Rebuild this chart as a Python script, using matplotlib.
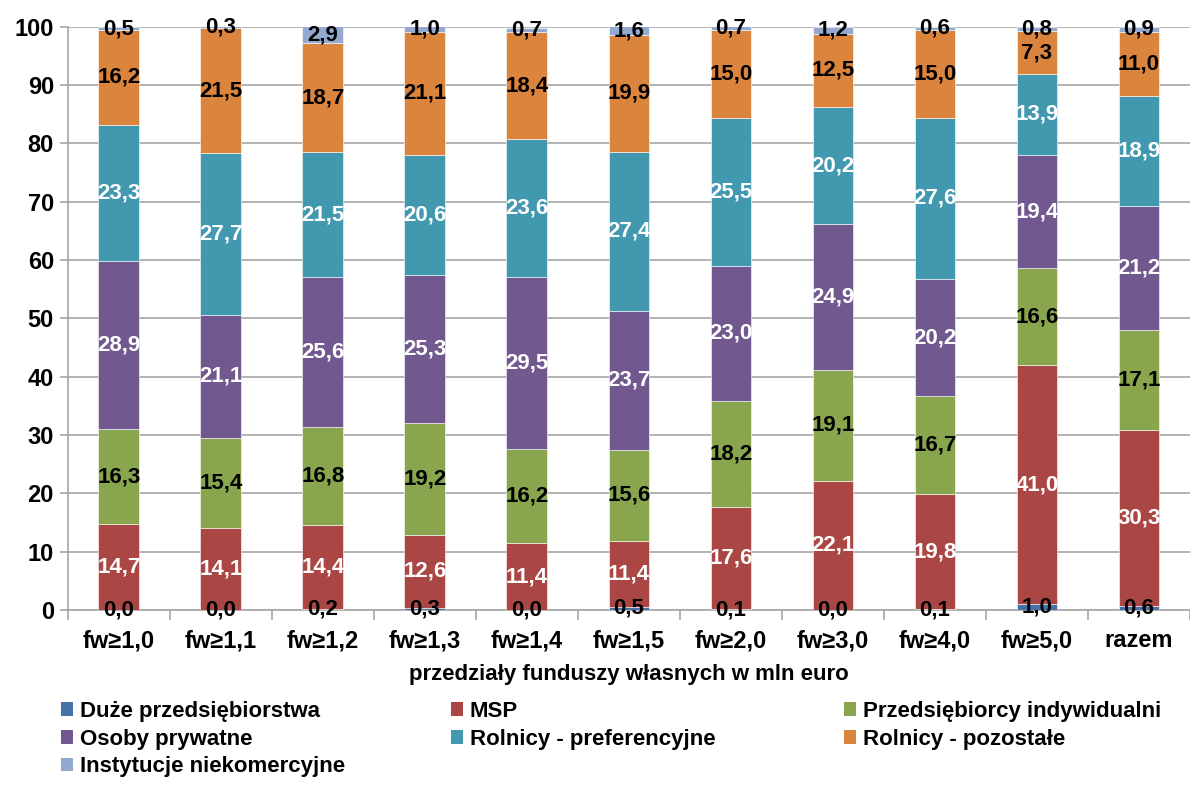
import matplotlib
matplotlib.use("Agg")
import matplotlib.pyplot as plt
from matplotlib.patches import Patch
import numpy as np

categories = ["fw≥1,0", "fw≥1,1", "fw≥1,2", "fw≥1,3", "fw≥1,4", "fw≥1,5",
              "fw≥2,0", "fw≥3,0", "fw≥4,0", "fw≥5,0", "razem"]

duze = [0.0, 0.0, 0.2, 0.3, 0.0, 0.5, 0.1, 0.0, 0.1, 1.0, 0.6]
msp = [14.7, 14.1, 14.4, 12.6, 11.4, 11.4, 17.6, 22.1, 19.8, 41.0, 30.3]
przedsiebiorcy = [16.3, 15.4, 16.8, 19.2, 16.2, 15.6, 18.2, 19.1, 16.7, 16.6, 17.1]
osoby = [28.9, 21.1, 25.6, 25.3, 29.5, 23.7, 23.0, 24.9, 20.2, 19.4, 21.2]
rolnicy_pref = [23.3, 27.7, 21.5, 20.6, 23.6, 27.4, 25.5, 20.2, 27.6, 13.9, 18.9]
rolnicy_poz = [16.2, 21.5, 18.7, 21.1, 18.4, 19.9, 15.0, 12.5, 15.0, 7.3, 11.0]
instytucje = [0.5, 0.3, 2.9, 1.0, 0.7, 1.6, 0.7, 1.2, 0.6, 0.8, 0.9]

series = [
    ("Duże przedsiębiorstwa", duze, "#4572A7", "black"),
    ("MSP", msp, "#AA4643", "white"),
    ("Przedsiębiorcy indywidualni", przedsiebiorcy, "#89A54E", "black"),
    ("Osoby prywatne", osoby, "#71588F", "white"),
    ("Rolnicy - preferencyjne", rolnicy_pref, "#4198AF", "white"),
    ("Rolnicy - pozostałe", rolnicy_poz, "#DB843D", "black"),
    ("Instytucje niekomercyjne", instytucje, "#93A9CF", "black"),
]

plt.rcParams["font.family"] = ["Liberation Sans", "DejaVu Sans"]
plt.rcParams["font.weight"] = "bold"

fig = plt.figure(figsize=(11.9, 7.85), dpi=100)
ax = fig.add_axes([0.057, 0.223, 0.943, 0.743])

x = np.arange(len(categories))
bottom = np.zeros(len(categories))
for name, vals, color, tcolor in series:
    vals = np.array(vals)
    ax.bar(x, vals, 0.4, bottom=bottom, color=color, edgecolor="white",
           linewidth=0.4, zorder=3)
    for xi, b, v in zip(x, bottom, vals):
        ax.text(xi, b + v / 2, f"{v:.1f}".replace(".", ","), ha="center",
                va="center", color=tcolor, fontsize=16, fontweight="bold",
                zorder=4)
    bottom += vals

ax.set_xlim(-0.5, len(categories) - 0.5)
ax.set_ylim(0, 100)
ax.set_yticks(range(0, 101, 10))
ax.yaxis.grid(True, color="#A6A6A6", linewidth=1.2, zorder=0)
ax.set_xticks(x)
ax.set_xticklabels(categories)
ax.set_xticks(np.arange(-0.5, len(categories)), minor=True)
ax.tick_params(axis="x", which="major", length=0, labelsize=17, pad=14)
ax.tick_params(axis="x", which="minor", length=7, color="#A6A6A6", width=1.2)
ax.tick_params(axis="y", length=6, color="#A6A6A6", width=1.2, labelsize=17, pad=4)
for lbl in ax.get_xticklabels() + ax.get_yticklabels():
    lbl.set_fontweight("bold")

for side in ["top", "right"]:
    ax.spines[side].set_visible(False)
for side in ["left", "bottom"]:
    ax.spines[side].set_color("#A6A6A6")
    ax.spines[side].set_linewidth(1.2)

ax.set_xlabel("przedziały funduszy własnych w mln euro", fontsize=16,
              fontweight="bold", labelpad=8)

# legend laid out in three columns, filled row by row
columns = [[0, 3, 6], [1, 4], [2, 5]]
col_x = [0.051, 0.379, 0.709]
for cx, idx in zip(col_x, columns):
    handles = [Patch(facecolor=series[i][2], label=series[i][0]) for i in idx]
    leg = fig.legend(handles=handles, loc="upper left", bbox_to_anchor=(cx, 0.107),
                     frameon=False, fontsize=16, handlelength=0.55,
                     handleheight=0.55, handletextpad=0.3, labelspacing=0.3,
                     borderaxespad=0, borderpad=0)
    for t in leg.get_texts():
        t.set_fontweight("bold")

fig.savefig("out.png", dpi=100)
